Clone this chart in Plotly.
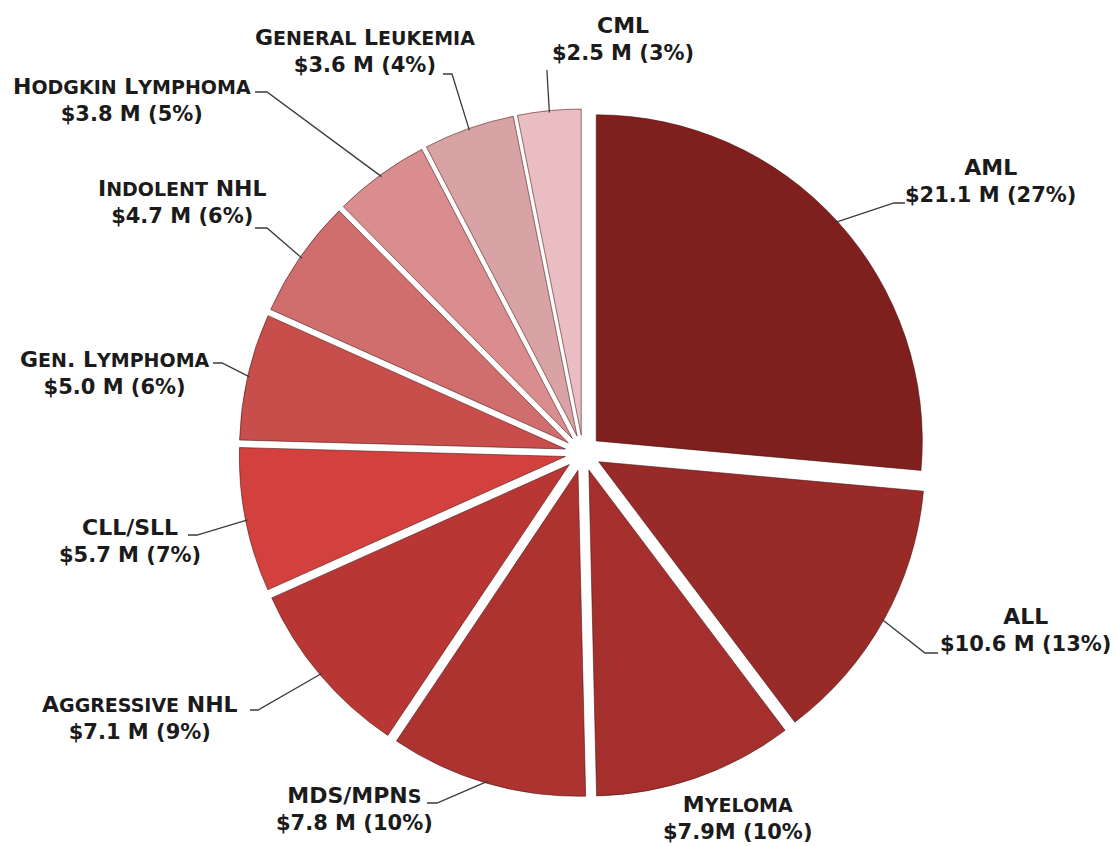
import math
import plotly.graph_objects as go

W, H = 1116, 846

# Funding by disease area (US$ millions), clockwise from 12 o'clock
categories = ["AML", "ALL", "Myeloma", "MDS/MPNs", "Aggressive NHL", "CLL/SLL",
              "Gen. Lymphoma", "Indolent NHL", "Hodgkin Lymphoma",
              "General Leukemia", "CML"]
funding_musd = [21.1, 10.6, 7.9, 7.8, 7.1, 5.7, 5.0, 4.7, 3.8, 3.6, 2.5]
share_pct = [27, 13, 10, 10, 9, 7, 6, 6, 5, 4, 3]
compact_unit = {"Myeloma"}   # printed as "$7.9M"

slice_colors = ["#80201e", "#982a28", "#a42f2d", "#ad3331", "#b83735", "#d2413d",
                "#c84e4b", "#cf6e6c", "#da8d8e", "#d9a2a5", "#e9bdc1"]

# Pie placement in pixels: centre, outer reach of pulled slices, pull fraction
CX, CY, HALF = 583, 453, 344
PULL = 0.055

# Label block centres (px)
label_pos = {
    "AML": (990, 181), "ALL": (1025, 630), "Myeloma": (737, 818),
    "MDS/MPNs": (354, 809), "Aggressive NHL": (140, 718), "CLL/SLL": (130, 541),
    "Gen. Lymphoma": (115, 373), "Indolent NHL": (182, 202),
    "Hodgkin Lymphoma": (132, 100), "General Leukemia": (365, 51), "CML": (623, 39),
}
# Leader lines: (end next to text, elbow) in px; slice end comes from the data
leader_pts = {
    "AML": ((905, 203), (894, 203)),
    "ALL": ((938, 653), (925, 653)),
    "MDS/MPNs": ((427, 803), (437, 803)),
    "Aggressive NHL": ((250, 710), (258, 710)),
    "CLL/SLL": ((188, 535), (197, 535)),
    "Gen. Lymphoma": ((213, 363), (222, 363)),
    "Indolent NHL": ((255, 228), (267, 228)),
    "Hodgkin Lymphoma": ((255, 92), (267, 92)),
    "General Leukemia": ((443, 74), (452, 74)),
    "CML": ((547, 70), (547, 72)),
}

NAME_SIZE, SMALL_SIZE, VALUE_SIZE = 22, 19, 21


def px(x, y):
    return x / W, 1 - y / H


def small_caps(text):
    """Render lowercase letters as reduced-size capitals."""
    runs, cur, cur_small = [], "", None
    for ch in text:
        is_small = ch.islower()
        if cur and is_small != cur_small:
            runs.append((cur, cur_small))
            cur = ""
        cur += ch
        cur_small = is_small
    if cur:
        runs.append((cur, cur_small))
    out = []
    for chunk, is_small in runs:
        size = SMALL_SIZE if is_small else NAME_SIZE
        out.append(f'<span style="font-size:{size}px">{chunk.upper()}</span>')
    return "".join(out)


fig = go.Figure(go.Pie(
    labels=categories,
    values=funding_musd,
    sort=False,
    direction="clockwise",
    rotation=0,
    pull=PULL,
    textinfo="none",
    hoverinfo="label+value",
    marker=dict(colors=slice_colors,
                line=dict(color="rgba(70,15,15,0.55)", width=1)),
    domain=dict(x=[(CX - HALF) / W, (CX + HALF) / W],
                y=[1 - (CY + HALF) / H, 1 - (CY - HALF) / H]),
    showlegend=False,
))

total = sum(funding_musd)
cum = 0.0
shapes = []
annotations = []
for name, val, pct in zip(categories, funding_musd, share_pct):
    mid = 2 * math.pi * (cum + val / 2) / total
    cum += val
    edge = (CX + (HALF - 2) * math.sin(mid), CY - (HALF - 2) * math.cos(mid))

    if name in leader_pts:
        (ex, ey), (bx, by) = leader_pts[name]
        p0, p1, p2 = px(ex, ey), px(bx, by), px(*edge)
        shapes.append(dict(
            type="path", xref="paper", yref="paper",
            path=f"M {p0[0]:.5f} {p0[1]:.5f} L {p1[0]:.5f} {p1[1]:.5f} "
                 f"L {p2[0]:.5f} {p2[1]:.5f}",
            line=dict(color="#3a3a3a", width=1.3),
        ))

    sep = "" if name in compact_unit else " "
    amount = f"${val:.1f}{sep}M ({pct}%)"
    lx, ly = px(*label_pos[name])
    annotations.append(dict(
        x=lx, y=ly, xref="paper", yref="paper",
        xanchor="center", yanchor="middle", align="center",
        text=f"{small_caps(name)}<br>{amount}", showarrow=False,
        font=dict(family="DejaVu Sans", size=VALUE_SIZE, weight="bold",
                  color="#1b1b1b"),
    ))

fig.update_layout(
    width=W, height=H,
    margin=dict(l=0, r=0, t=0, b=0),
    paper_bgcolor="white",
    plot_bgcolor="white",
    shapes=shapes,
    annotations=annotations,
)

fig.write_html("out.html")
